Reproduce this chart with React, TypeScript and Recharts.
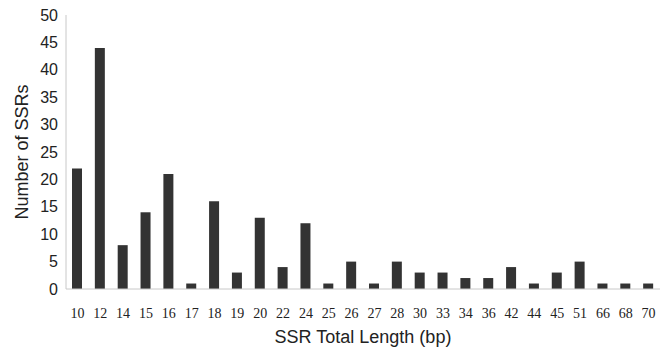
import { BarChart, Bar, XAxis, YAxis } from 'recharts'

const lengths = ['10', '12', '14', '15', '16', '17', '18', '19', '20', '22', '24', '25', '26', '27', '28', '30', '33', '34', '36', '42', '44', '45', '51', '66', '68', '70']
const counts = [22, 44, 8, 14, 21, 1, 16, 3, 13, 4, 12, 1, 5, 1, 5, 3, 3, 2, 2, 4, 1, 3, 5, 1, 1, 1]
const yTicks = [0, 5, 10, 15, 20, 25, 30, 35, 40, 45, 50]

const data = lengths.map((len, i) => ({ len, count: counts[i] }))

export default function App() {
    return (
        <div style={{ position: 'absolute', left: 0, top: 0, width: 666, height: 349, background: '#fff' }}>
            <BarChart
                width={666}
                height={349}
                data={data}
                margin={{ top: 15, right: 6, left: 0, bottom: 0 }}
            >
                <XAxis
                    dataKey="len"
                    height={60}
                    stroke="#c8c8c8"
                    tickLine={false}
                    tickMargin={13}
                    interval={0}
                    tick={{ fill: '#222', fontSize: 14, fontFamily: '"Liberation Serif", serif' }}
                    label={{
                        value: 'SSR Total Length (bp)',
                        position: 'insideBottom',
                        offset: 6,
                        fill: '#222',
                        fontSize: 18,
                        fontFamily: '"Liberation Sans", Arial, sans-serif',
                    }}
                />
                <YAxis
                    width={66}
                    domain={[0, 50]}
                    ticks={yTicks}
                    stroke="#c8c8c8"
                    tickLine={false}
                    interval={0}
                    tick={{ fill: '#222', fontSize: 16, fontFamily: '"Liberation Sans", Arial, sans-serif' }}
                    label={{
                        value: 'Number of SSRs',
                        angle: -90,
                        position: 'insideLeft',
                        offset: 22,
                        style: { textAnchor: 'middle' },
                        fill: '#222',
                        fontSize: 18,
                        fontFamily: '"Liberation Sans", Arial, sans-serif',
                    }}
                />
                <Bar dataKey="count" fill="#333333" barSize={10} isAnimationActive={false} />
            </BarChart>
        </div>
    )
}
